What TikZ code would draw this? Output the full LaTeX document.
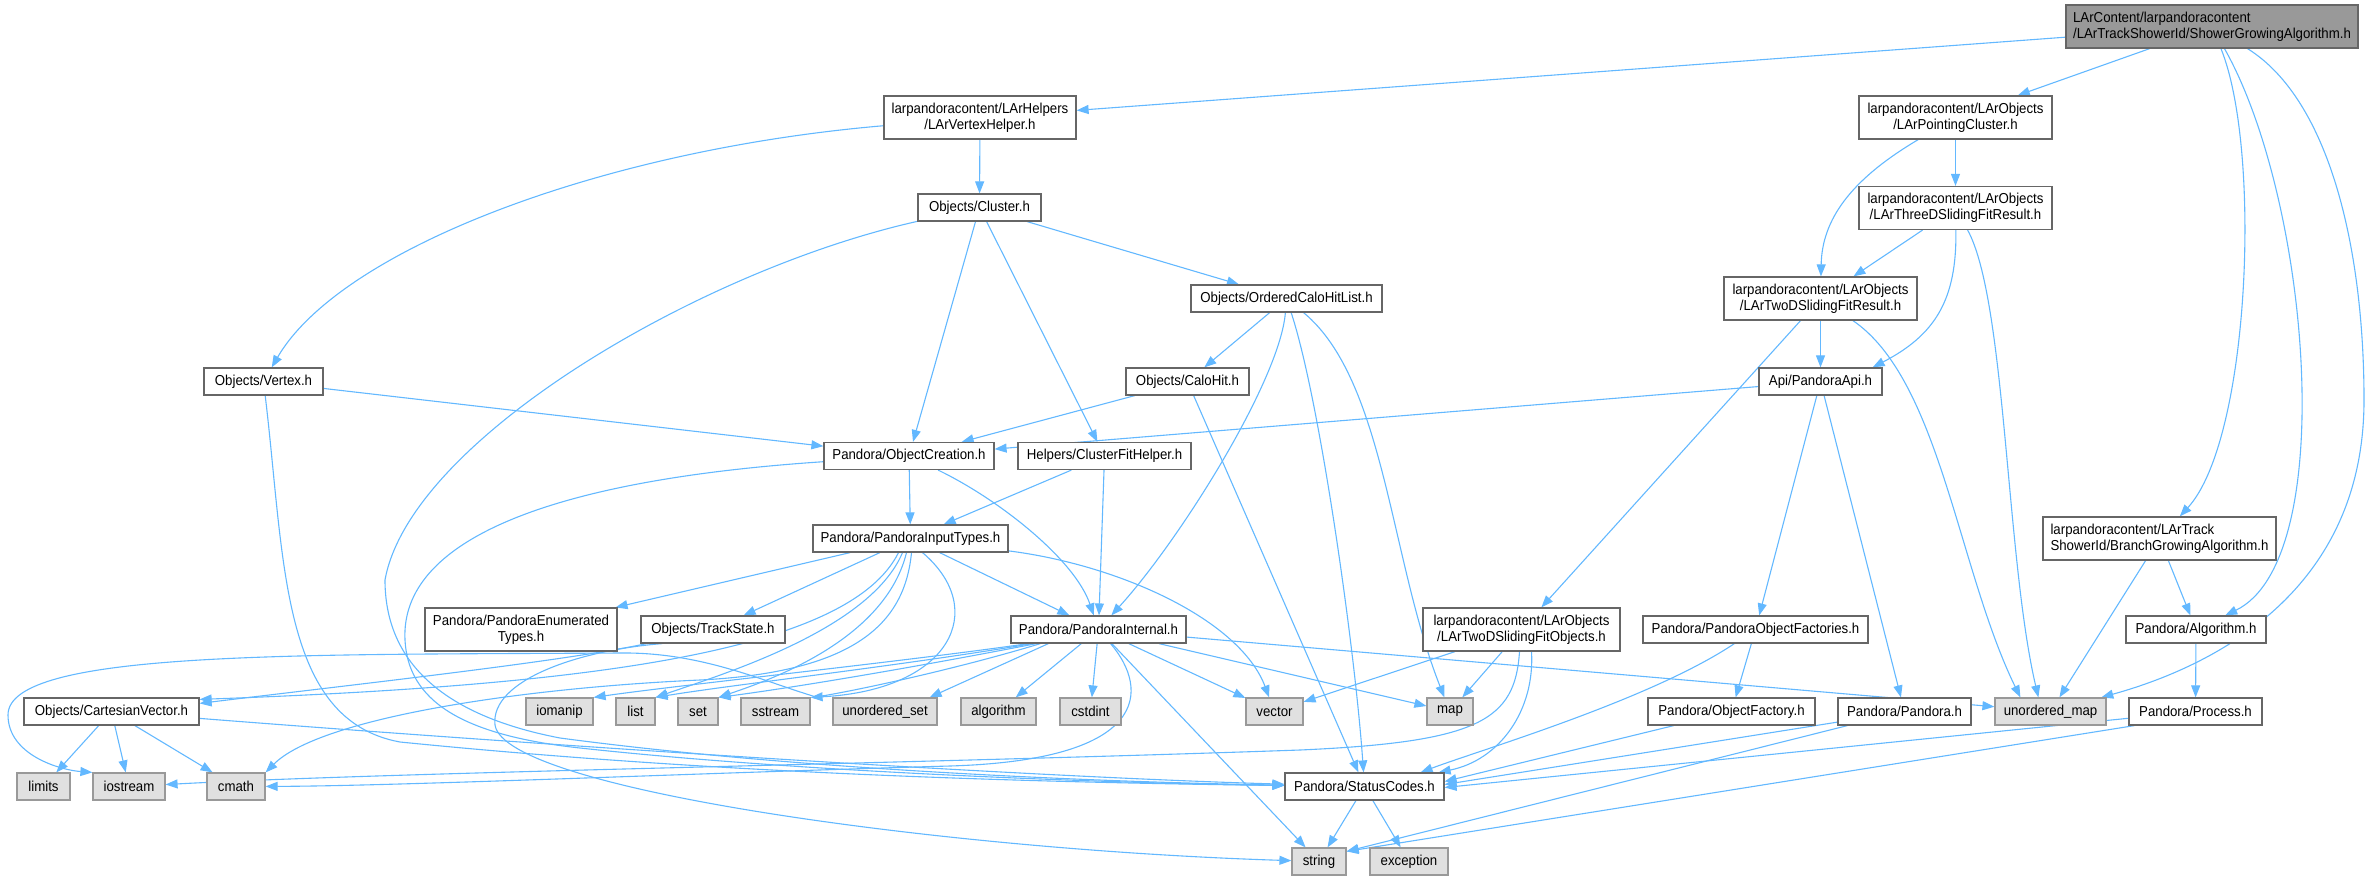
\documentclass[tikz,border=0pt]{standalone}
\usepackage{fontspec}
\setmainfont{Liberation Sans}[FakeStretch=0.92]
\usetikzlibrary{arrows.meta}
\definecolor{edgeblue}{HTML}{63B8FF}
\definecolor{nodeborder}{HTML}{666666}
\definecolor{extborder}{HTML}{999999}
\definecolor{extfill}{HTML}{E0E0E0}
\definecolor{rootfill}{HTML}{999999}
\pgfdeclarelayer{bg}
\pgfsetlayers{bg,main}
\begin{document}
\begin{tikzpicture}[x=1pt,y=-1pt,
  every node/.style={font=\fontsize{14.4pt}{16pt}\selectfont, inner sep=0pt, text=black},
  hdr/.style={draw=nodeborder, fill=white, line width=1.2pt, align=center, minimum height=27pt},
  hdrtwo/.style={hdr, minimum height=43pt},
  sys/.style={draw=extborder, fill=extfill, line width=1.2pt, minimum height=27pt},
  root/.style={draw=nodeborder, fill=rootfill, line width=1.2pt, align=left, minimum height=43pt},
  e/.style={draw=edgeblue, line width=1.1pt, -{Triangle[length=12pt,width=9pt]}}
]
\useasboundingbox (0,0) rectangle (2369,880);

% ---------- nodes ----------
\node[root, minimum width=292pt] (sga) at (2212,26.5) {LArContent/larpandoracontent\\/LArTrackShowerId/ShowerGrowingAlgorithm.h};
\node[hdrtwo, minimum width=192pt] (vh) at (980,117.5) {larpandoracontent/LArHelpers\\/LArVertexHelper.h};
\node[hdrtwo, minimum width=193pt] (pc) at (1955.5,117.5) {larpandoracontent/LArObjects\\/LArPointingCluster.h};
\node[hdr, minimum width=123pt] (cl) at (979.5,207.5) {Objects/Cluster.h};
\node[hdrtwo, minimum width=193pt] (td3) at (1955.5,208) {larpandoracontent/LArObjects\\/LArThreeDSlidingFitResult.h};
\node[hdr, minimum width=191pt] (och) at (1286.5,298.5) {Objects/OrderedCaloHitList.h};
\node[hdrtwo, minimum width=193pt] (td2) at (1820.5,298.5) {larpandoracontent/LArObjects\\/LArTwoDSlidingFitResult.h};
\node[hdr, minimum width=119pt] (vx) at (263.5,381.5) {Objects/Vertex.h};
\node[hdr, minimum width=123pt] (ch) at (1187.5,381.5) {Objects/CaloHit.h};
\node[hdr, minimum width=123pt] (api) at (1820.5,381.5) {Api/PandoraApi.h};
\node[hdr, minimum width=170pt] (oc) at (909,456) {Pandora/ObjectCreation.h};
\node[hdr, minimum width=173pt] (cfh) at (1104.5,456) {Helpers/ClusterFitHelper.h};
\node[hdr, minimum width=195pt] (it) at (910.5,538.5) {Pandora/PandoraInputTypes.h};
\node[hdrtwo, minimum width=233pt, align=left] (bga) at (2159.5,538.5) {larpandoracontent/LArTrack\\ShowerId/BranchGrowingAlgorithm.h};
\node[hdrtwo, minimum width=192pt] (et) at (521,629.5) {Pandora/PandoraEnumerated\\Types.h};
\node[hdr, minimum width=144pt] (ts) at (713,629.5) {Objects/TrackState.h};
\node[hdr, minimum width=175pt] (pi) at (1098.5,629.5) {Pandora/PandoraInternal.h};
\node[hdrtwo, minimum width=197pt] (tdo) at (1521.5,629.5) {larpandoracontent/LArObjects\\/LArTwoDSlidingFitObjects.h};
\node[hdr, minimum width=225pt] (pof) at (1755.5,629.5) {Pandora/PandoraObjectFactories.h};
\node[hdr, minimum width=140pt] (alg) at (2196,629.5) {Pandora/Algorithm.h};
\node[hdr, minimum width=175pt] (cv) at (111.5,711.5) {Objects/CartesianVector.h};
\node[sys, minimum width=67pt] (iomanip) at (559.5,711.5) {iomanip};
\node[sys, minimum width=39pt] (list) at (635.5,711.5) {list};
\node[sys, minimum width=40pt] (set) at (698,711.5) {set};
\node[sys, minimum width=69pt] (sstream) at (775.5,711.5) {sstream};
\node[sys, minimum width=104pt] (uset) at (885,711.5) {unordered\_set};
\node[sys, minimum width=75pt] (algorithm) at (998.5,711.5) {algorithm};
\node[sys, minimum width=61pt] (cstdint) at (1090.5,711.5) {cstdint};
\node[sys, minimum width=57pt] (vector) at (1274.5,711.5) {vector};
\node[sys, minimum width=46pt] (map) at (1450,711.5) {map};
\node[hdr, minimum width=167pt] (of) at (1731.5,711.5) {Pandora/ObjectFactory.h};
\node[hdr, minimum width=133pt] (pandora) at (1904.5,711.5) {Pandora/Pandora.h};
\node[sys, minimum width=111pt] (umap) at (2050.5,711.5) {unordered\_map};
\node[hdr, minimum width=133pt] (proc) at (2195.5,711.5) {Pandora/Process.h};
\node[sys, minimum width=53pt] (limits) at (43.5,786.5) {limits};
\node[sys, minimum width=72pt] (iostream) at (129,786.5) {iostream};
\node[sys, minimum width=58pt] (cmath) at (236,786.5) {cmath};
\node[hdr, minimum width=159pt] (sc) at (1364.5,786.5) {Pandora/StatusCodes.h};
\node[sys, minimum width=54pt] (string) at (1319,861.5) {string};
\node[sys, minimum width=78pt] (exception) at (1409,861.5) {exception};

% ---------- edges ----------
\begin{pgfonlayer}{bg}
\draw[e] (sga) -- (vh);
\draw[e] (sga) -- (pc);
\draw[e] (sga) .. controls (2262,150) and (2250,440) .. (bga);
\draw[e] (sga) .. controls (2310,200) and (2340,560) .. (alg);
\draw[e] (sga) .. controls (2330,100) and (2364,250) .. (2364,400) .. controls (2364,600) and (2200,670) .. (umap);

\draw[e] (vh) -- (cl);
\draw[e] (vh) .. controls (600,150) and (340,250) .. (vx);

\draw[e] (cl) -- (och);
\draw[e] (cl) -- (oc);
\draw[e] (cl) -- (cfh);
\draw[e] (cl) .. controls (700,270) and (410,440) .. (385,580) .. controls (385,660) and (440,715) .. (560,738) .. controls (800,770) and (1100,782) .. (sc);

\draw[e] (och) -- (ch);
\draw[e] (och) .. controls (1280,380) and (1180,540) .. (pi);
\draw[e] (och) .. controls (1320,400) and (1355,650) .. (sc);
\draw[e] (och) .. controls (1385,380) and (1390,560) .. (map);

\draw[e] (ch) -- (oc);
\draw[e] (ch) -- (sc);
\draw[e] (vx) -- (oc);
\draw[e] (vx) .. controls (285,560) and (280,720) .. (400,742) .. controls (700,772) and (1000,782) .. (sc);

\draw[e] (pc) -- (td3);
\draw[e] (pc) .. controls (1850,180) and (1822,220) .. (td2);
\draw[e] (td3) -- (td2);
\draw[e] (td3) .. controls (1957,300) and (1935,335) .. ([xshift=-10pt]api.north east);
\draw[e] (td3) .. controls (2006,300) and (2006,560) .. ([xshift=44pt]umap.north west);
\draw[e] (td2) -- (api);
\draw[e] (td2) -- (tdo);
\draw[e] (td2) .. controls (1940,380) and (1958,570) .. ([xshift=26pt]umap.north west);

\draw[e] (api) -- (oc);
\draw[e] (api) -- (pof);
\draw[e] (api) -- (pandora);

\draw[e] (oc) -- (it);
\draw[e] (oc) .. controls (1000,500) and (1075,560) .. (pi);
\draw[e] (oc) .. controls (550,480) and (400,540) .. (405,640) .. controls (408,700) and (460,735) .. (580,748) .. controls (800,772) and (1100,783) .. (sc);
\draw[e] (cfh) -- (it);
\draw[e] (cfh) -- (pi);

\draw[e] (it) -- (et);
\draw[e] (it) -- (ts);
\draw[e] (it) -- (pi);
\draw[e] (it) .. controls (1120,565) and (1240,620) .. (vector);
\draw[e] ([xshift=-12pt]it.south) .. controls (850,650) and (600,685) .. ([yshift=-2pt]cv.north east);
\draw[e] ([xshift=-8pt]it.south) .. controls (870,630) and (720,675) .. (list.north east);
\draw[e] ([xshift=-4pt]it.south) .. controls (885,640) and (770,680) .. (set.north east);
\draw[e] ([xshift=1pt]it.south) .. controls (905,620) and (860,672) .. (700,680) .. controls (520,688) and (320,718) .. (cmath.north east);
\draw[e] ([xshift=12pt]it.south) .. controls (990,610) and (950,690) .. (sstream.north east);

\draw[e] (ts) .. controls (560,662) and (350,685) .. ([yshift=-6pt]cv.north east);
\draw[e] ([xshift=22pt]ts.south west) .. controls (580,650) and (490,680) .. (495,725) .. controls (505,790) and (950,850) .. (string);

\draw[e] ([xshift=18pt]pi.south west) .. controls (900,662) and (680,685) .. (iomanip.north east);
\draw[e] ([xshift=22pt]pi.south west) .. controls (900,666) and (730,685) .. (list.north east);
\draw[e] ([xshift=26pt]pi.south west) .. controls (900,670) and (790,688) .. (set.north east);
\draw[e] ([xshift=30pt]pi.south west) .. controls (960,668) and (860,690) .. (816,697) .. controls (760,680) and (700,652) .. (620,653) .. controls (300,655) and (8,650) .. (8,715) .. controls (8,755) and (60,770) .. (iostream.north west);
\draw[e] ([xshift=38pt]pi.south west) -- ([xshift=-8pt]uset.north east);
\draw[e] (pi) -- (algorithm);
\draw[e] (pi) -- (cstdint);
\draw[e] (pi) -- (vector);
\draw[e] (pi) -- (map);
\draw[e] (pi) -- (umap);
\draw[e] (pi) -- (string);
\draw[e] ([xshift=-76pt]pi.south east) .. controls (1150,690) and (1150,760) .. (950,766) .. controls (700,773) and (400,786) .. (cmath);

\draw[e] (tdo) -- (vector);
\draw[e] (tdo) -- (map);
\draw[e] ([xshift=10pt]tdo.south) .. controls (1535,710) and (1500,760) .. ([xshift=-6pt]sc.north east);
\draw[e] ([xshift=-2pt]tdo.south) .. controls (1515,720) and (1480,742) .. (1300,750) .. controls (900,764) and (400,772) .. (iostream);

\draw[e] (pof) -- (of);
\draw[e] (pof) .. controls (1650,700) and (1480,750) .. ([xshift=-24pt]sc.north east);
\draw[e] (of) -- ([yshift=5pt]sc.east);
\draw[e] (pandora) -- ([yshift=2pt]sc.east);
\draw[e] ([xshift=10pt]pandora.south west) -- ([yshift=-4pt]string.north east);
\draw[e] (proc) -- ([yshift=-1pt]sc.east);
\draw[e] ([xshift=6pt]proc.south west) -- ([yshift=-4pt]string.north east);
\draw[e] (alg) -- (proc);
\draw[e] (bga) -- (alg);
\draw[e] (bga) -- ([xshift=65pt]umap.north west);

\draw[e] (cv) -- (limits);
\draw[e] (cv) -- (iostream);
\draw[e] (cv) -- (cmath);
\draw[e] (cv) .. controls (500,742) and (1000,776) .. (sc);

\draw[e] (sc) -- (string);
\draw[e] (sc) -- (exception);
\end{pgfonlayer}
\end{tikzpicture}
\end{document}
